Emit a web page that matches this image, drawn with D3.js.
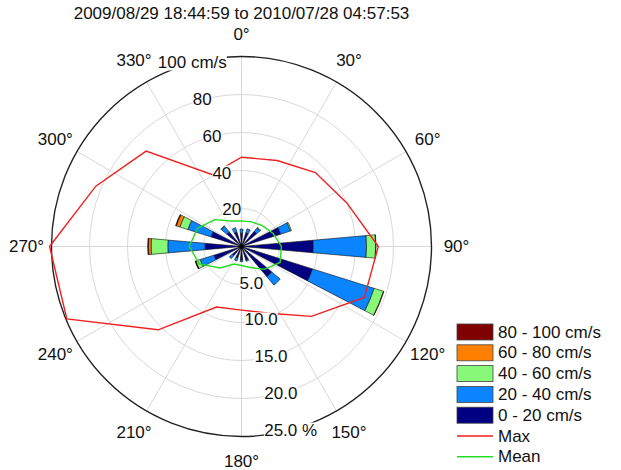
<!DOCTYPE html>
<html>
<head>
<meta charset="utf-8">
<script src="https://cdn.jsdelivr.net/npm/d3@7"></script>
<style>
  html, body { margin: 0; padding: 0; background: #fff; }
  text { font-family: "Liberation Sans", Arial, sans-serif; fill: #111; }
</style>
</head>
<body>
<svg id="chart" width="621" height="470"></svg>
<script>
// ---------------- DATA ----------------
const title = "2009/08/29 18:44:59 to 2010/07/28 04:57:53";
const directions = [0, 22.5, 45, 67.5, 90, 112.5, 135, 157.5, 180, 202.5, 225, 247.5, 270, 292.5, 315, 337.5];
const speedClasses = ["0 - 20 cm/s", "20 - 40 cm/s", "40 - 60 cm/s", "60 - 80 cm/s", "80 - 100 cm/s"];
const classColors = ["#000080", "#0a84ff", "#88f878", "#ff7f00", "#7f0000"];
// frequency (%) per direction for each speed class
const freq0_20   = [1.75, 1.9, 2.6, 5.4, 9.45, 9.8, 5.2, 1.9, 1.8, 1.6, 1.6, 3.8, 4.8, 4.2, 2.5, 2.0];
const freq20_40  = [0.55, 0.55, 0.6, 1.35, 7.0, 8.5, 1.45, 0.15, 0.2, 0.4, 0.5, 1.9, 4.9, 3.2, 1.0, 0.6];
const freq40_60  = [0, 0, 0.1, 0.15, 1.2, 1.3, 0, 0, 0, 0, 0, 0.6, 2.2, 1.1, 0.05, 0];
const freq60_80  = [0, 0, 0, 0, 0.05, 0.05, 0, 0, 0, 0, 0, 0.05, 0.35, 0.5, 0, 0];
const freq80_100 = [0, 0, 0, 0, 0, 0, 0, 0, 0, 0, 0, 0.05, 0.1, 0.1, 0, 0];
// max and mean speed (cm/s) per direction
const maxSpeed  = [47, 49, 55, 60, 72, 70, 52, 38, 33.5, 34.5, 62, 99.5, 101, 83, 71, 41];
const meanSpeed = [13.5, 14, 15.5, 18, 21, 22, 17, 12, 10, 10, 16, 24, 27.5, 25, 20, 14.5];
const percentTicks = [5, 10, 15, 20, 25];
const percentLabels = ["5.0", "10.0", "15.0", "20.0", "25.0 %"];
const speedTicks = [20, 40, 60, 80, 100];
const speedLabels = ["20", "40", "60", "80", "100 cm/s"];
const angleTicks = [0, 30, 60, 90, 120, 150, 180, 210, 240, 270, 300, 330];

// ---------------- LAYOUT ----------------
const cx = 241.5, cy = 246.5, R = 190;
const svg = d3.select("#chart");
const g = svg.append("g").attr("transform", `translate(${cx},${cy})`);
const rad = d => d * Math.PI / 180;
const rPct = d3.scaleLinear().domain([0, 25]).range([0, R]);
const rSpd = d3.scaleLinear().domain([0, 100]).range([0, R]);
const px = (deg, r) => r * Math.sin(rad(deg));
const py = (deg, r) => -r * Math.cos(rad(deg));

// grid rings
g.selectAll("circle.ring").data(percentTicks.slice(0, -1)).join("circle")
  .attr("class", "ring").attr("r", d => rPct(d))
  .attr("fill", "none").attr("stroke", "#d4d4d4").attr("stroke-width", 0.9);
// spokes
g.selectAll("line.spoke").data(angleTicks).join("line")
  .attr("x1", 0).attr("y1", 0)
  .attr("x2", d => px(d, R)).attr("y2", d => py(d, R))
  .attr("stroke", "#d4d4d4").attr("stroke-width", 0.9);
// outer circle
g.append("circle").attr("r", rPct(25)).attr("fill", "none")
  .attr("stroke", "#222").attr("stroke-width", 1.4);

// wedges
const classArrays = [freq0_20, freq20_40, freq40_60, freq60_80, freq80_100];
const keys = speedClasses;
const rows = directions.map((dir, i) => {
  const o = { dir };
  keys.forEach((k, j) => o[k] = classArrays[j][i]);
  return o;
});
const stacked = d3.stack().keys(keys)(rows);
const halfW = 5;
const arc = d3.arc();
stacked.forEach((series, j) => {
  g.append("g").selectAll("path").data(series.filter(d => d[1] > d[0])).join("path")
    .attr("d", d => arc({
      innerRadius: rPct(d[0]), outerRadius: rPct(d[1]),
      startAngle: rad(d.data.dir - halfW), endAngle: rad(d.data.dir + halfW)
    }))
    .attr("fill", classColors[j])
    .attr("stroke", "#111").attr("stroke-width", 0.6).attr("stroke-linejoin", "round");
});
g.append("circle").attr("r", 2.2).attr("fill", "#000");

// max & mean lines
const radial = d3.lineRadial().curve(d3.curveLinearClosed);
g.append("path")
  .attr("d", radial(directions.map((d, i) => [rad(d), rSpd(maxSpeed[i])])))
  .attr("fill", "none").attr("stroke", "#f02020").attr("stroke-width", 1.4);
g.append("path")
  .attr("d", radial(directions.map((d, i) => [rad(d), rSpd(meanSpeed[i])])))
  .attr("fill", "none").attr("stroke", "#22dd22").attr("stroke-width", 1.4);

// ring labels with white background
function ringLabel(text, deg, r) {
  const t = g.append("text").text(text)
    .attr("x", px(deg, r)).attr("y", py(deg, r))
    .attr("text-anchor", "middle").attr("dominant-baseline", "central")
    .attr("font-size", 17);
  const b = t.node().getBBox();
  g.insert("rect", () => t.node())
    .attr("x", b.x).attr("y", b.y + 2).attr("width", b.width).attr("height", b.height - 4)
    .attr("fill", "#fff");
}
percentTicks.forEach((p, i) => ringLabel(percentLabels[i], 165, rPct(p)));
speedTicks.forEach((s, i) => ringLabel(speedLabels[i], 345, rSpd(s)));

// angle labels
g.selectAll("text.ang").data(angleTicks).join("text")
  .attr("class", "ang")
  .attr("x", d => px(d, d === 0 ? R + 22 : R + 25)).attr("y", d => py(d, d === 0 ? R + 22 : R + 25))
  .attr("text-anchor", "middle").attr("dominant-baseline", "central")
  .attr("font-size", 17)
  .text(d => d + "°");

// title
svg.append("text").attr("x", cx).attr("y", 19).attr("text-anchor", "middle")
  .attr("font-size", 17).text(title);

// legend
const legItems = speedClasses.map((s, j) => ({ label: s, color: classColors[j], type: "box" })).reverse()
  .concat([{ label: "Max", color: "#f02020", type: "line" }, { label: "Mean", color: "#22dd22", type: "line" }]);
const legX = 457, legY0 = 332, legDy = 20.8;
const leg = svg.append("g");
legItems.forEach((it, i) => {
  const y = legY0 + i * legDy;
  if (it.type === "box") {
    leg.append("rect").attr("x", legX).attr("y", y - 8).attr("width", 36).attr("height", 16)
      .attr("fill", it.color).attr("stroke", "#444").attr("stroke-width", 0.8);
  } else {
    leg.append("line").attr("x1", legX).attr("x2", legX + 36).attr("y1", y).attr("y2", y)
      .attr("stroke", it.color).attr("stroke-width", 1.4);
  }
  leg.append("text").attr("x", legX + 41).attr("y", y).attr("dominant-baseline", "central")
    .attr("font-size", 17).text(it.label);
});
</script>
</body>
</html>
